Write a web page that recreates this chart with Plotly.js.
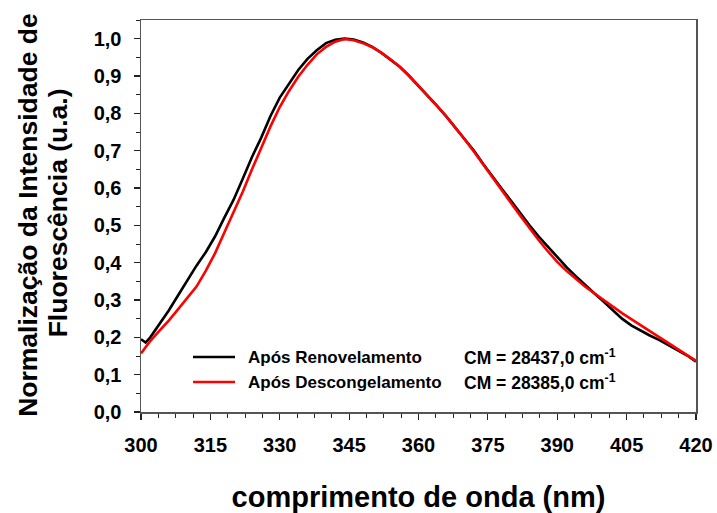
<!DOCTYPE html>
<html>
<head>
<meta charset="utf-8">
<script src="https://cdn.plot.ly/plotly-3.0.1.min.js"></script>
<style>
  html, body { margin: 0; padding: 0; background: #fff; }
  #chart { width: 717px; height: 513px; }
</style>
</head>
<body>
<div id="chart"></div>
<script>
// Emission spectra, normalised fluorescence intensity vs wavelength (nm)
const wavelength = [300, 301, 302, 304, 306, 308, 310, 312, 314, 316, 318, 320, 322, 324, 326, 328, 330,
  332, 334, 336, 338, 340, 342, 344, 346, 348, 350, 352, 354, 356, 358, 360, 362, 364, 366, 368, 370,
  372, 374, 376, 378, 380, 382, 384, 386, 388, 390, 392, 394, 396, 398, 400, 402, 404, 406, 408, 410,
  412, 414, 416, 418, 420];

const renovelamento = [0.195, 0.186, 0.200, 0.235, 0.272, 0.312, 0.352, 0.392, 0.428, 0.470, 0.520, 0.568,
  0.625, 0.683, 0.735, 0.793, 0.842, 0.880, 0.916, 0.946, 0.969, 0.988, 0.997, 1.000, 0.998, 0.990,
  0.978, 0.962, 0.944, 0.924, 0.900, 0.874, 0.847, 0.820, 0.792, 0.762, 0.732, 0.700, 0.664, 0.630,
  0.598, 0.566, 0.532, 0.500, 0.470, 0.442, 0.414, 0.388, 0.364, 0.340, 0.318, 0.296, 0.274, 0.250,
  0.232, 0.218, 0.205, 0.193, 0.180, 0.166, 0.152, 0.135];

const descongelamento = [0.157, 0.175, 0.190, 0.218, 0.245, 0.275, 0.305, 0.336, 0.378, 0.425, 0.480, 0.535,
  0.590, 0.650, 0.710, 0.765, 0.817, 0.860, 0.898, 0.930, 0.958, 0.978, 0.992, 0.999, 0.996, 0.988,
  0.977, 0.962, 0.944, 0.924, 0.900, 0.874, 0.848, 0.820, 0.792, 0.762, 0.730, 0.697, 0.662, 0.627,
  0.594, 0.560, 0.526, 0.492, 0.460, 0.430, 0.402, 0.378, 0.356, 0.336, 0.318, 0.300, 0.283, 0.265,
  0.249, 0.233, 0.217, 0.201, 0.184, 0.168, 0.153, 0.137];

const seriesNames = ['Após Renovelamento', 'Após Descongelamento'];
const seriesCM = ['CM = 28437,0 cm<sup>-1</sup>', 'CM = 28385,0 cm<sup>-1</sup>'];
const seriesColors = ['#000000', '#ff0000'];
const xTitle = 'comprimento de onda (nm)';
const yTitleLines = ['Normalização da Intensidade de', 'Fluorescência (u.a.)'];

const FONT = 'Arial, "Liberation Sans", Helvetica, sans-serif';

const traces = [renovelamento, descongelamento].map((ys, i) => ({
  type: 'scatter',
  mode: 'lines',
  x: wavelength,
  y: ys,
  name: seriesNames[i],
  line: { color: seriesColors[i], width: 2.6 },
  showlegend: false
}));

// hand-placed key: short line sample + label + CM value per row
const keyRowsY = [0.1403, 0.0765];
const shapes = keyRowsY.map((y, i) => ({
  type: 'line', xref: 'paper', yref: 'paper',
  x0: 0.0937, x1: 0.1694, y0: y, y1: y,
  line: { color: seriesColors[i], width: 2.6 }
}));

const annotations = [];
keyRowsY.forEach((y, i) => {
  annotations.push({
    xref: 'paper', yref: 'paper', x: 0.189, y: y,
    xanchor: 'left', yanchor: 'middle', showarrow: false,
    text: '<b>' + seriesNames[i] + '</b>',
    font: { family: FONT, size: 17, color: '#000', weight: 'bold' }
  });
  annotations.push({
    xref: 'paper', yref: 'paper', x: 0.578, y: y,
    xanchor: 'left', yanchor: 'middle', showarrow: false,
    text: '<b>' + seriesCM[i] + '</b>',
    font: { family: FONT, size: 17.5, color: '#000', weight: 'bold' }
  });
});

// two-line vertical y-axis title, tightly stacked
const yTitleX = [-0.2036, -0.1505];
const yTitleY = [0.503, 0.508];
yTitleLines.forEach((t, i) => {
  annotations.push({
    xref: 'paper', yref: 'paper', x: yTitleX[i], y: yTitleY[i],
    xanchor: 'center', yanchor: 'middle', showarrow: false,
    textangle: -90,
    text: '<b>' + t + '</b>',
    font: { family: FONT, size: 26.5, color: '#000', weight: 'bold' }
  });
});

const layout = {
  width: 717,
  height: 513,
  margin: { l: 141, r: 21, t: 20, b: 101 },
  paper_bgcolor: '#fff',
  plot_bgcolor: '#fff',
  separators: ',.',
  font: { family: FONT, color: '#000' },
  xaxis: {
    range: [300, 420],
    tick0: 300, dtick: 15,
    ticks: 'outside', ticklen: 6, tickwidth: 1.2, tickcolor: '#222',
    minor: { dtick: 3.75, ticks: 'outside', ticklen: 4, tickwidth: 1, tickcolor: '#222' },
    showline: true, linecolor: '#555', linewidth: 1.5, mirror: true,
    showgrid: false, zeroline: false,
    tickfont: { family: FONT, size: 20, color: '#000', weight: 'bold' },
    ticklabelstandoff: 8,
    title: {
      text: '<b>' + xTitle + '</b>',
      font: { family: FONT, size: 29, color: '#000', weight: 'bold' },
      standoff: 34
    }
  },
  yaxis: {
    range: [0, 1.05],
    tick0: 0, dtick: 0.1,
    tickformat: '.1f',
    ticks: 'outside', ticklen: 6, tickwidth: 1.2, tickcolor: '#222',
    minor: { dtick: 0.05, ticks: 'outside', ticklen: 4, tickwidth: 1, tickcolor: '#222' },
    showline: true, linecolor: '#555', linewidth: 1.5, mirror: true,
    showgrid: false, zeroline: false,
    tickfont: { family: FONT, size: 20, color: '#000', weight: 'bold' },
    ticklabelstandoff: 8
  },
  shapes: shapes,
  annotations: annotations
};

Plotly.newPlot('chart', traces, layout, { displayModeBar: false, staticPlot: true });
</script>
</body>
</html>
